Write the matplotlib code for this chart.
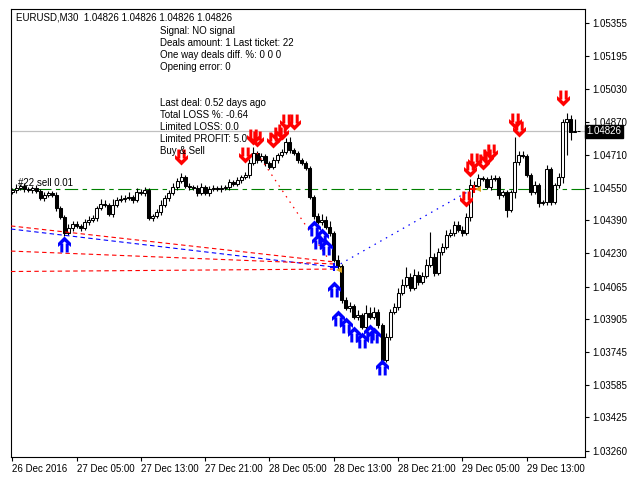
import numpy as np
import matplotlib.pyplot as plt
from matplotlib.path import Path

# EURUSD M30 closes, bar 0 = 26 Dec 21:00
first_open = 1.04528
closes = [1.04538, 1.04548, 1.04558, 1.04543, 1.04538, 1.04548, 1.04533, 1.04499, 1.04514, 1.04523,
          1.04514, 1.04450, 1.04406, 1.04327, 1.04352, 1.04372, 1.04362, 1.04352, 1.04381, 1.04391,
          1.04401, 1.04450, 1.04469, 1.04465, 1.04421, 1.04465, 1.04489, 1.04494, 1.04499, 1.04504,
          1.04489, 1.04528, 1.04523, 1.04538, 1.04401, 1.04411, 1.04430, 1.04465, 1.04499, 1.04523,
          1.04553, 1.04582, 1.04602, 1.04558, 1.04553, 1.04548, 1.04523, 1.04553, 1.04523, 1.04543,
          1.04548, 1.04543, 1.04548, 1.04553, 1.04577, 1.04567, 1.04587, 1.04602, 1.04611, 1.04670,
          1.04719, 1.04685, 1.04704, 1.04670, 1.04651, 1.04685, 1.04709, 1.04724, 1.04773, 1.04734,
          1.04719, 1.04685, 1.04670, 1.04646, 1.04504, 1.04411, 1.04381, 1.04391, 1.04357, 1.04327,
          1.04195, 1.04166, 1.04000, 1.03960, 1.03970, 1.03916, 1.03926, 1.03867, 1.03936, 1.03916,
          1.03941, 1.03877, 1.03706, 1.03818, 1.03941, 1.03965, 1.04034, 1.04073, 1.04112, 1.04058,
          1.04122, 1.04088, 1.04117, 1.04171, 1.04210, 1.04132, 1.04234, 1.04259, 1.04318, 1.04327,
          1.04367, 1.04342, 1.04327, 1.04406, 1.04562, 1.04558, 1.04597, 1.04592, 1.04553, 1.04592,
          1.04597, 1.04514, 1.04528, 1.04440, 1.04528, 1.04675, 1.04709, 1.04704, 1.04611, 1.04528,
          1.04562, 1.04474, 1.04479, 1.04641, 1.04479, 1.04562, 1.04602, 1.04871, 1.04886, 1.04822,
          1.04827, 1.04826]
# wick lengths above / below the body, in pips
up_wick = [1, 2, 1, 1.5, 1, 1, 1.5, 1, 1.5, 1,
           1, 1.5, 1, 1, 2, 1.5, 1.5, 1, 1.5, 2,
           1.5, 1, 2.5, 2, 1, 3, 1.5, 2, 1.5, 2.5,
           1, 2, 1.5, 1.5, 1, 1, 1.5, 2.5, 1.5, 1.5,
           2, 1.5, 2, 1, 1.5, 1, 1.5, 2, 1, 1.5,
           1.5, 1, 1.5, 1, 1.5, 1, 1.5, 1, 1.5, 2,
           3, 1, 1.5, 1, 1, 1.5, 1, 1.5, 2, 2.5,
           1, 1, 1, 1, 1, 1, 1.5, 3, 2, 3,
           1, 2.5, 1, 1.5, 2, 1, 2.5, 1, 4, 3,
           2.5, 1.5, 1, 2, 1.5, 2, 2.5, 3, 5, 2,
           3, 2, 2, 3, 12, 2, 2, 2, 2.5, 2,
           2, 2, 2, 2, 3, 2, 2, 1, 1, 2,
           1.5, 1, 1, 1, 1, 12, 2, 2, 1, 1,
           2, 1, 1, 2, 1, 1, 2, 1.5, 3, 2,
           6, 0]
dn_wick = [1, 1.5, 1, 1.5, 1, 1.5, 1, 1, 1.5, 1,
           1, 1.5, 1, 1.5, 1, 1.5, 1, 1.5, 1, 1.5,
           1, 1.5, 1, 1, 1, 1.5, 1, 1, 1.5, 1,
           1.5, 1, 1, 1.5, 1, 1.5, 1, 1.5, 1, 1.5,
           1, 1.5, 1, 1, 1.5, 1, 1.5, 1, 1, 1.5,
           1, 1, 1.5, 1, 1.5, 1, 1, 1.5, 1, 1.5,
           1, 1.5, 1, 1.5, 1, 1, 1.5, 1, 1, 1.5,
           1, 1.5, 1, 1, 1, 1.5, 1, 1.5, 1, 1.5,
           1, 1.5, 1.5, 1, 2, 1, 1.5, 1, 1.5, 1,
           1, 1.5, 2, 1, 1.5, 1, 1.5, 1, 1, 1.5,
           1, 1.5, 1, 1, 1, 1.5, 1, 1.5, 1, 1,
           1.5, 1, 1.5, 1, 2, 1, 1.5, 1, 1, 1.5,
           1, 2, 1, 3.5, 1, 3, 1.5, 1, 1, 1.5,
           1, 2, 1, 1.5, 1.5, 1, 1.5, 3, 16, 4,
           0, 0]

sell_bars = [42, 58, 60, 61, 65, 66, 67, 68, 70, 113, 114, 115, 117, 118, 119, 125, 126, 137]
sell_prices = [1.04660, 1.04670, 1.04758, 1.04748, 1.04744, 1.04768, 1.04783, 1.04832, 1.04832,
               1.04455, 1.04602, 1.04641, 1.04636, 1.04660, 1.04685, 1.04837, 1.04797, 1.04949]
buy_bars = [13, 75, 76, 77, 78, 80, 81, 83, 85, 87, 89, 90, 92]
buy_prices = [1.04313, 1.04391, 1.04327, 1.04352, 1.04298, 1.04092, 1.03950, 1.03916,
              1.03872, 1.03843, 1.03882, 1.03867, 1.03711]

bid = 1.04826
order_price = 1.04543
yticks = [1.05355, 1.05195, 1.05030, 1.04870, 1.04710, 1.04550, 1.04390,
          1.04230, 1.04065, 1.03905, 1.03745, 1.03585, 1.03425, 1.03260]
xtick_bars = [0, 16, 32, 48, 64, 80, 96, 112, 128]
xtick_labels = ["26 Dec 2016", "27 Dec 05:00", "27 Dec 13:00", "27 Dec 21:00", "28 Dec 05:00",
                "28 Dec 13:00", "28 Dec 21:00", "29 Dec 05:00", "29 Dec 13:00"]

# closed trades: (colour, bar0, price0, bar1, price1)
old_trades = [("red", -0.3, 1.04362, 80, 1.04186),
              ("blue", -0.3, 1.04347, 80, 1.04161),
              ("red", -0.3, 1.04239, 80, 1.04176),
              ("red", -0.3, 1.04139, 80, 1.04151)]
sell_trade = ([60.9, 80], [1.04719, 1.04161])
buy_trade = ([80.3, 113.2], [1.04161, 1.04528])

info1 = ["Signal: NO signal", "Deals amount: 1 Last ticket: 22",
         "One way deals diff. %: 0 0 0", "Opening error: 0"]
info2 = ["Last deal: 0.52 days ago", "Total LOSS %: -0.64", "Limited LOSS: 0.0",
         "Limited PROFIT: 5.0", "Buy & Sell"]

FONT = ["Liberation Sans", "DejaVu Sans"]
plt.rcParams['font.family'] = FONT
FS = 7.0

closes = np.array(closes)
opens = np.concatenate([[first_open], closes[:-1]])
highs = np.maximum(opens, closes) + np.array(up_wick) * 0.0001
lows = np.minimum(opens, closes) - np.array(dn_wick) * 0.0001
x = np.arange(len(closes))

fig = plt.figure(figsize=(6.4, 4.8), dpi=100)
ax = fig.add_axes([11/640, 23/480, 574/640, 448/480])

# candles
ax.vlines(x, lows, highs, color="black", lw=0.8, zorder=2)
bull = closes >= opens
body_h = np.maximum(np.abs(closes - opens), 0.000012)
ax.bar(x, body_h, bottom=np.minimum(opens, closes), width=0.75,
       color=np.where(bull, "white", "black"), edgecolor="black", linewidth=0.75, zorder=3)

# bid and order lines
ax.axhline(bid, color="#c0c0c0", lw=0.9, zorder=1)
ax.axhline(order_price, color="#008000", lw=0.8, dashes=(12, 4, 4, 4), zorder=1)
ax.text(1.5, order_price + 0.00004, "#22 sell 0.01", fontsize=FS, va="bottom", ha="left", zorder=5)

# trade lines
for col, b0, p0, b1, p1 in old_trades:
    ax.plot([b0, b1], [p0, p1], color=col, lw=0.8, dashes=(4, 3), zorder=4)
ax.plot(*sell_trade, color="red", lw=0.9, dashes=(1.2, 4), zorder=4)
ax.plot(*buy_trade, color="blue", lw=0.9, dashes=(1.2, 4), zorder=4)
ax.plot([80], [1.04161], marker="+", color="blue", ms=6, mew=1.5, zorder=6)
ax.plot([81.2], [1.04146], marker="<", color="goldenrod", ms=4, mew=0, zorder=6)
ax.plot([114.8], [1.04543], marker="+", color="red", ms=6, mew=1.5, zorder=6)
ax.plot([115.9], [1.04543], marker="<", color="goldenrod", ms=4, mew=0, zorder=6)


def arrow_marker(down):
    # fat chevron with two stems, tip at the origin
    s = 1 if down else -1
    chev = [(0, 0), (6.5, 6.5), (6.5, 10.5), (0, 5), (-6.5, 10.5), (-6.5, 6.5), (0, 0)]
    stems = [[(-4.2, 7), (-1.2, 7), (-1.2, 16), (-4.2, 16), (-4.2, 7)],
             [(1.2, 7), (4.2, 7), (4.2, 16), (1.2, 16), (1.2, 7)]]
    verts, codes = [], []
    for poly in [chev] + stems:
        for i, (px, py) in enumerate(poly):
            verts.append((px, s * py))
            codes.append(Path.MOVETO if i == 0 else (Path.CLOSEPOLY if i == len(poly) - 1 else Path.LINETO))
    return Path(verts, codes)


ax.plot(sell_bars, sell_prices, ls="none", marker=arrow_marker(True), ms=23,
        color="red", mew=0, zorder=7)
ax.plot(buy_bars, buy_prices, ls="none", marker=arrow_marker(False), ms=23,
        color="blue", mew=0, zorder=7)

# axes
ax.set_xlim(-0.3, 142.5)
ax.set_ylim(1.03231, 1.05424)
for sp in ax.spines.values():
    sp.set_linewidth(0.8)
ax.yaxis.tick_right()
ax.set_yticks(yticks)
ax.set_yticklabels(["%.5f" % v for v in yticks])
ax.set_xticks(xtick_bars)
ax.set_xticklabels(xtick_labels)
for t in ax.get_xticklabels():
    t.set_horizontalalignment("left")
ax.tick_params(axis="both", length=3, width=0.8, labelsize=FS, pad=2, direction="out")

ax.text(1.002, bid, "1.04826", transform=ax.get_yaxis_transform(), color="white",
        fontsize=FS, va="center", ha="left", zorder=10, clip_on=False,
        bbox=dict(boxstyle="square,pad=0.15", fc="black", ec="black"))

# text overlays
fig.text(16/640, 1 - 17/480, "EURUSD,M30  1.04826 1.04826 1.04826 1.04826",
         fontsize=FS, va="center", ha="left")
for i, s in enumerate(info1):
    fig.text(160/640, 1 - (31 + 12 * i)/480, s, fontsize=FS, va="center", ha="left")
for i, s in enumerate(info2):
    fig.text(160/640, 1 - (103 + 12 * i)/480, s, fontsize=FS, va="center", ha="left")

fig.savefig("out.png", dpi=100)
